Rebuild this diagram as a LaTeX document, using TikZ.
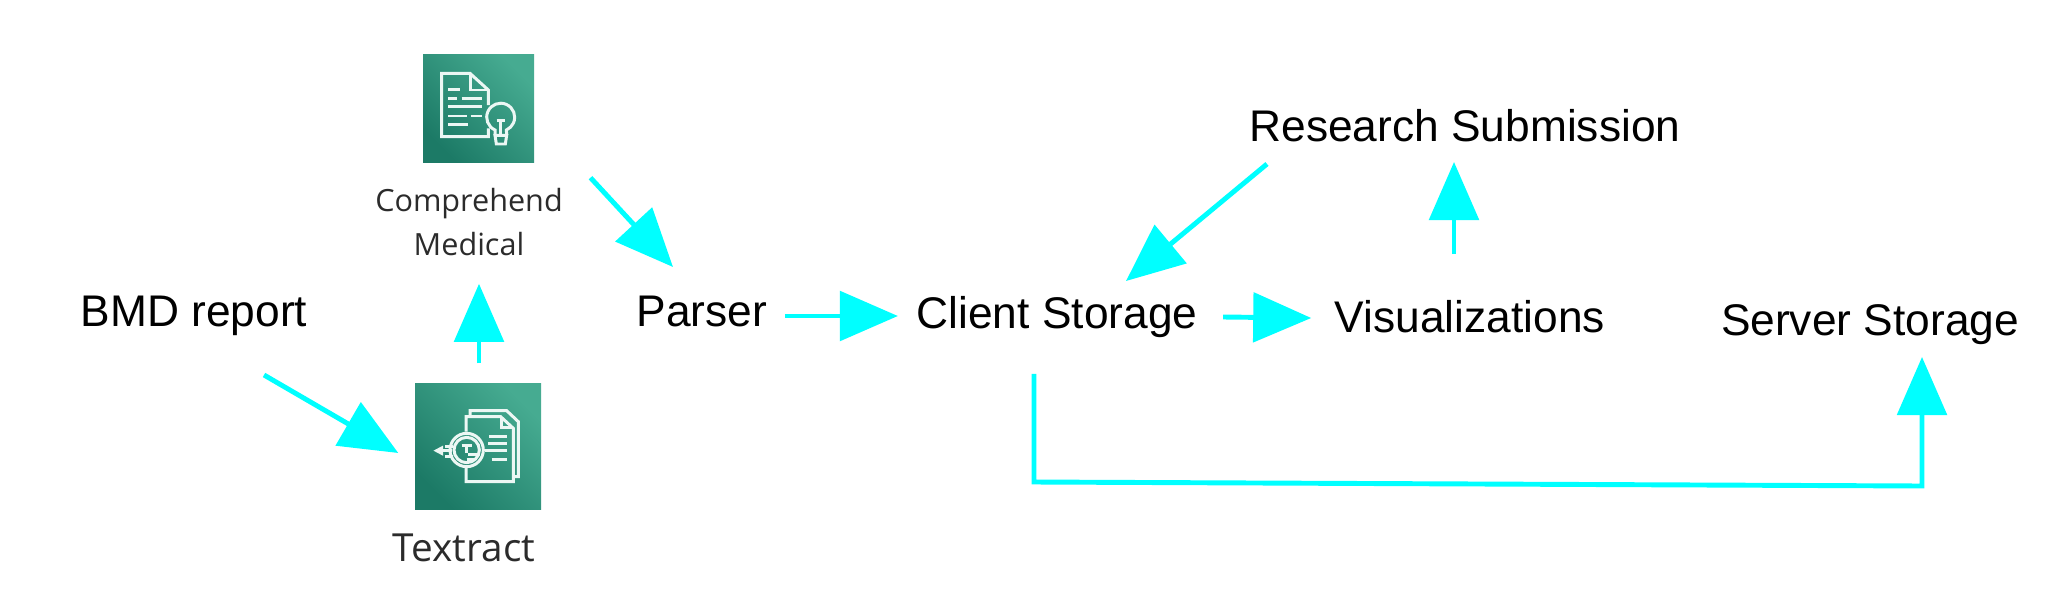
\documentclass[tikz,border=0pt]{standalone}
\usepackage{fontspec}
\setmainfont{Liberation Sans}
\newfontfamily\iconfont{Open Sans}
\usetikzlibrary{arrows.meta}
\definecolor{flowcyan}{HTML}{00FFFF}
\definecolor{icondark}{HTML}{1C7A66}
\definecolor{iconlight}{HTML}{46AB91}
\definecolor{icontext}{HTML}{2B2B2B}
\tikzset{
	flow/.style={draw=flowcyan,line width=1.4pt,-{Triangle[length=16.5pt,width=14pt]}},
	step label/.style={inner sep=0pt,text height=9.5pt,text depth=2.6pt,font=\fontsize{12.6}{15}\selectfont},
	icon box/.style={inner sep=0pt,left color=icondark,right color=iconlight,shading angle=135},
	icon label/.style={inner sep=0pt,align=center,text=icontext,font=\iconfont\fontsize{8.7}{12.7}\selectfont},
	icon line/.style={draw=white!90!iconlight,line width=.85pt},
}
\begin{document}
\begin{tikzpicture}[x=.01cm,y=-.01cm]
		\useasboundingbox (0,0) rectangle (2070,600);

		\node [step label] (bmd) at (194,314) {BMD report};
		\node [step label] (parser) at (702,314) {Parser};
		\node [step label] (client) at (1057,316) {Client Storage};
		\node [step label] (vis) at (1470,320) {Visualizations};
		\node [step label] (server) at (1870,323) {Server Storage};
		\node [step label] (research) at (1465,129) {Research Submission};

		\node [icon box,minimum width=111*.01cm,minimum height=108*.01cm] (comprehend) at (478.5,108) {};
		\node [icon box,minimum width=126*.01cm,minimum height=126*.01cm] (textract) at (478,446) {};
		\node [icon label] (comprehendlabel) at (469,222) {Comprehend\\Medical};
		\node [icon label,font=\iconfont\fontsize{11}{13}\selectfont] (textractlabel) at (464,548) {Textract};

		% comprehend glyph
		\begin{scope}[shift={(360,30)},x=.01cm/3,y=-.01cm/3]
		\draw [icon line] (385,225) -- (385,180) -- (330,130) -- (245,130) -- (245,320) -- (385,320) -- (385,295);
		\draw [icon line] (330,130) -- (330,180) -- (385,180);
		\draw [icon line] (265,178) -- (300,178) (265,205) -- (290,205) (305,205) -- (365,205) (265,230) -- (365,230);
		\draw [icon line] (265,258) -- (320,258) (332,258) -- (365,258) (265,284) -- (325,284);
		\draw [icon line] (405,316) -- (405,300) arc (114:426:42) -- (440,316);
		\draw [icon line] (410,272) -- (435,272) (422,272) -- (422,316);
		\draw [icon line] (405,316) -- (440,316) -- (436,342) -- (409,342) -- cycle;
		\end{scope}

		% textract glyph
		\begin{scope}[shift={(360,360)},x=.01cm/3,y=-.01cm/3]
		\draw [icon line] (330,165) -- (330,152) -- (440,152) -- (475,185) -- (475,350) -- (462,350);
		\draw [icon line] (318,215) -- (318,170) -- (422,170) -- (460,205) -- (460,365) -- (318,365) -- (318,322);
		\draw [icon line] (424,172) -- (424,202) -- (460,202);
		\draw [icon line] (388,230) -- (440,230) (385,250) -- (440,250) (375,272) -- (440,272) (395,297) -- (440,297);
		\draw [icon line] (320,270) circle (50) (320,270) circle (38);
		\draw [icon line] (305,255) -- (335,255) (320,255) -- (320,280) (325,283) -- (355,283) (320,297) -- (345,297);
		\draw [icon line] (232,272) -- (275,272) (255,258) -- (280,258) (255,288) -- (280,288);
		\draw [icon line,fill=white] (230,272) -- (245,264) -- (245,280) -- cycle;
		\end{scope}

		\coordinate (lowleft) at (1034,482);
		\coordinate (lowright) at (1922,486);

		\draw [flow] ([shift={(70,39)}]bmd.south) -- ([shift={(-16,7)}]textract.west);
		\draw [flow] ([shift={(1,-19)}]textract.north) -- ([shift={(10,27)}]comprehendlabel.south);
		\draw [flow] ([shift={(112,15)}]comprehend.south) -- ([shift={(-29,-25)}]parser.north);
		\draw [flow] ([shift={(17,2)}]parser.east) -- ([shift={(-18,0)}]client.west);
		\draw [flow] ([shift={(25,1)}]client.east) -- ([shift={(-23,-2)}]vis.west);
		\draw [flow] ([shift={(-16,-44)}]vis.north) -- ([shift={(-11,11)}]research.south);
		\draw [flow] ([shift={(-198,13)}]research.south) -- ([shift={(69,-13)}]client.north);
		\draw [flow] ([shift={(-23,36)}]client.south) -- (lowleft) -- (lowright) -- ([shift={(52,12)}]server.south);
\end{tikzpicture}
\end{document}
